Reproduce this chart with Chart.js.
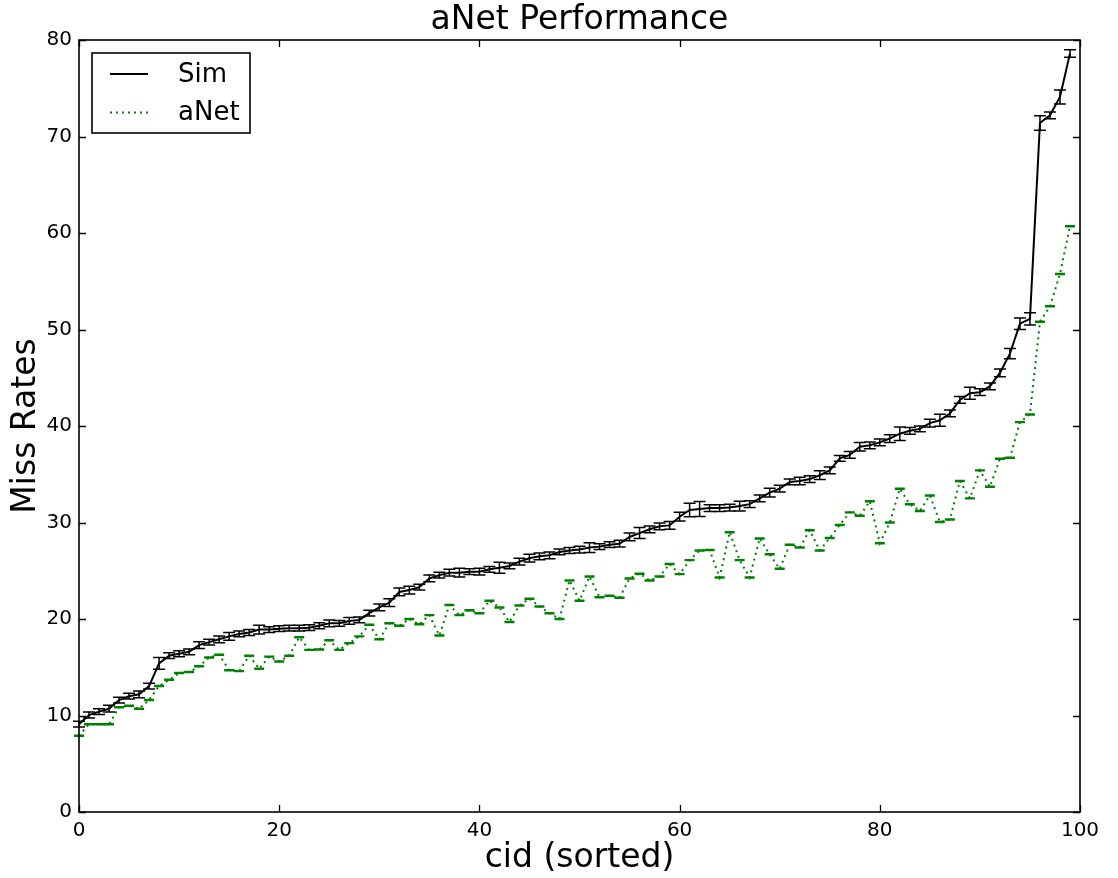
<!DOCTYPE html>
<html>
<head>
<meta charset="utf-8">
<script src="https://cdn.jsdelivr.net/npm/chart.js@4/dist/chart.umd.min.js"></script>
<style>
  html, body { margin: 0; padding: 0; background: #fff; }
  #wrap { width: 1118px; height: 878px; }
</style>
</head>
<body>
<div id="wrap"><canvas id="myChart" width="1118" height="878"></canvas></div>
<script>
// cid 0..99, sorted by Sim miss rate
var simRates = [
    9.1, 10.05, 10.4, 10.7, 11.6, 12.0, 12.2, 13.05, 15.4, 16.2,
    16.4, 16.6, 17.3, 17.6, 17.9, 18.2, 18.45, 18.6, 18.9, 18.9,
    19.0, 19.05, 19.05, 19.1, 19.3, 19.55, 19.55, 19.8, 19.9, 20.6,
    21.2, 21.7, 22.8, 23.0, 23.3, 24.2, 24.55, 24.8, 24.8, 24.9,
    24.9, 25.15, 25.3, 25.5, 25.95, 26.3, 26.5, 26.6, 26.95, 27.1,
    27.2, 27.4, 27.5, 27.7, 27.8, 28.5, 28.9, 29.3, 29.6, 29.7,
    30.6, 31.3, 31.4, 31.5, 31.5, 31.55, 31.7, 31.9, 32.5, 33.1,
    33.5, 34.2, 34.3, 34.5, 34.9, 35.4, 36.65, 37.0, 37.85, 38.0,
    38.3, 38.7, 39.2, 39.5, 39.7, 40.3, 40.6, 41.3, 42.7, 43.4,
    43.5, 44.1, 45.5, 47.5, 50.6, 51.1, 71.4, 72.2, 74.1, 78.6
];
var simErr = [
    0.3, 0.3, 0.3, 0.35, 0.3, 0.3, 0.35, 0.3, 0.6, 0.3,
    0.3, 0.3, 0.35, 0.3, 0.35, 0.4, 0.3, 0.3, 0.45, 0.3,
    0.3, 0.3, 0.3, 0.3, 0.3, 0.35, 0.3, 0.35, 0.3, 0.3,
    0.35, 0.4, 0.4, 0.4, 0.3, 0.35, 0.3, 0.35, 0.45, 0.3,
    0.35, 0.3, 0.57, 0.3, 0.35, 0.4, 0.35, 0.35, 0.3, 0.3,
    0.35, 0.5, 0.3, 0.3, 0.35, 0.4, 0.57, 0.35, 0.35, 0.4,
    0.45, 0.7, 0.78, 0.35, 0.35, 0.35, 0.5, 0.35, 0.35, 0.45,
    0.35, 0.3, 0.4, 0.35, 0.45, 0.35, 0.3, 0.35, 0.45, 0.35,
    0.35, 0.4, 0.7, 0.35, 0.3, 0.4, 0.62, 0.35, 0.35, 0.62,
    0.35, 0.35, 0.4, 0.52, 0.6, 0.64, 0.74, 0.35, 0.73, 0.38
];
var anetRates = [
    7.9, 9.1, 9.1, 9.1, 10.85, 11.0, 10.7, 11.6, 13.05, 13.7,
    14.4, 14.5, 15.1, 16.0, 16.3, 14.7, 14.6, 16.2, 14.85, 16.1,
    15.6, 16.2, 18.1, 16.8, 16.85, 17.8, 16.8, 17.5, 18.2, 19.4,
    17.9, 19.55, 19.3, 20.0, 19.45, 20.4, 18.3, 21.45, 20.4, 20.9,
    20.6, 21.9, 21.2, 19.7, 21.4, 22.1, 21.3, 20.6, 20.0, 24.0,
    21.9, 24.4, 22.25, 22.4, 22.2, 24.2, 24.7, 24.0, 24.4, 25.7,
    24.65, 26.1, 27.1, 27.15, 24.3, 29.0, 26.1, 24.3, 28.35, 26.7,
    25.2, 27.7, 27.4, 29.2, 27.1, 28.4, 29.75, 31.05, 30.7, 32.2,
    27.85, 30.0, 33.5, 31.9, 31.2, 32.8, 30.05, 30.3, 34.3, 32.5,
    35.4, 33.7, 36.6, 36.7, 40.4, 41.2, 50.8, 52.4, 55.75, 60.7
];
var anetErr = 0.05;
var xTicks = [0, 20, 40, 60, 80, 100];
var yTicks = [0, 10, 20, 30, 40, 50, 60, 70, 80];
var chartTitle = 'aNet Performance';

var FONT = "'DejaVu Sans', sans-serif";

function toPoints(vals) {
    var pts = [];
    for (var i = 0; i < vals.length; i++) {
        pts.push({ x: i, y: vals[i] });
    }
    return pts;
}

// error bars with caps, drawn through the chart scales
var errorBars = {
    id: 'errorBars',
    afterDatasetsDraw: function (chart) {
        var ctx = chart.ctx;
        var xs = chart.scales.x, ys = chart.scales.y;
        chart.data.datasets.forEach(function (ds) {
            var errs = ds.errors;
            ctx.save();
            ctx.strokeStyle = ds.borderColor;
            ctx.lineWidth = 1.5;
            ctx.setLineDash([]);
            for (var i = 0; i < ds.data.length; i++) {
                var e = Array.isArray(errs) ? errs[i] : errs;
                var px = xs.getPixelForValue(ds.data[i].x);
                var p1 = ys.getPixelForValue(ds.data[i].y - e);
                var p2 = ys.getPixelForValue(ds.data[i].y + e);
                var cw = ds.capWidth;
                ctx.beginPath();
                ctx.moveTo(px, p1); ctx.lineTo(px, p2);
                ctx.moveTo(px - cw, p1); ctx.lineTo(px + cw, p1);
                ctx.moveTo(px - cw, p2); ctx.lineTo(px + cw, p2);
                ctx.stroke();
            }
            ctx.restore();
        });
    }
};

// matplotlib style frame: inward ticks on all four sides, title, legend box
var frame = {
    id: 'frame',
    afterDraw: function (chart) {
        var ctx = chart.ctx;
        var a = chart.chartArea;
        var xs = chart.scales.x, ys = chart.scales.y;
        var tl = 7;
        ctx.save();
        ctx.strokeStyle = '#000';
        ctx.lineWidth = 1.3;
        ctx.beginPath();
        xTicks.forEach(function (v) {
            var px = Math.round(xs.getPixelForValue(v)) + 0.5;
            ctx.moveTo(px, a.bottom); ctx.lineTo(px, a.bottom - tl);
            ctx.moveTo(px, a.top); ctx.lineTo(px, a.top + tl);
        });
        yTicks.forEach(function (v) {
            var py = Math.round(ys.getPixelForValue(v)) + 0.5;
            ctx.moveTo(a.left, py); ctx.lineTo(a.left + tl, py);
            ctx.moveTo(a.right, py); ctx.lineTo(a.right - tl, py);
        });
        ctx.stroke();
        ctx.lineWidth = 1.6;
        ctx.strokeRect(a.left, a.top, a.right - a.left, a.bottom - a.top);

        // title, centred over the plot area
        ctx.fillStyle = '#000';
        ctx.font = '33px ' + FONT;
        ctx.textAlign = 'center';
        ctx.textBaseline = 'alphabetic';
        ctx.fillText(chartTitle, (a.left + a.right) / 2, 28.5);

        // legend
        var lx = a.left + 13, ly = a.top + 13;
        ctx.fillStyle = '#fff';
        ctx.fillRect(lx, ly, 158, 80);
        ctx.lineWidth = 1.6;
        ctx.strokeStyle = '#000';
        ctx.strokeRect(lx, ly, 158, 80);
        ctx.font = '26px ' + FONT;
        ctx.textBaseline = 'middle';
        ctx.textAlign = 'left';
        chart.data.datasets.forEach(function (ds, k) {
            var yy = ly + 21 + k * 38.5;
            ctx.save();
            ctx.strokeStyle = ds.borderColor;
            ctx.lineWidth = 2;
            ctx.setLineDash(ds.borderDash || []);
            ctx.beginPath();
            ctx.moveTo(lx + 18, yy); ctx.lineTo(lx + 56, yy);
            ctx.stroke();
            ctx.restore();
            ctx.fillStyle = '#000';
            ctx.fillText(ds.label, lx + 86, yy + 1);
        });
        ctx.restore();
    }
};

var ctx1 = document.getElementById('myChart');
var myChart = new Chart(ctx1, {
    type: 'line',
    data: {
        datasets: [
            {
                label: 'Sim',
                data: toPoints(simRates),
                errors: simErr,
                capWidth: 6,
                borderColor: '#000000',
                borderWidth: 2,
                pointRadius: 0,
                fill: false,
                tension: 0
            },
            {
                label: 'aNet',
                data: toPoints(anetRates),
                errors: anetErr,
                capWidth: 5,
                borderColor: '#008000',
                borderWidth: 2,
                borderDash: [2, 4],
                pointRadius: 0,
                fill: false,
                tension: 0
            }
        ]
    },
    options: {
        responsive: false,
        animation: false,
        layout: { padding: { left: 0, right: 38, top: 40, bottom: 0 } },
        plugins: {
            legend: { display: false },
            tooltip: { enabled: false },
            title: { display: false }
        },
        scales: {
            x: {
                type: 'linear',
                min: 0,
                max: 100,
                afterBuildTicks: function (s) { s.ticks = xTicks.map(function (v) { return { value: v }; }); },
                afterFit: function (s) { s.height = 66; },
                grid: { display: false, drawTicks: false },
                border: { display: false },
                ticks: { color: '#000', padding: 7, maxRotation: 0, font: { family: FONT, size: 20 } },
                title: {
                    display: true,
                    text: 'cid (sorted)',
                    color: '#000',
                    font: { family: FONT, size: 33 },
                    padding: { top: 0, bottom: 0 }
                }
            },
            y: {
                type: 'linear',
                min: 0,
                max: 80,
                afterBuildTicks: function (s) { s.ticks = yTicks.map(function (v) { return { value: v }; }); },
                afterFit: function (s) { s.width = 79; },
                grid: { display: false, drawTicks: false },
                border: { display: false },
                ticks: { color: '#000', padding: 7, font: { family: FONT, size: 20 } },
                title: {
                    display: true,
                    text: 'Miss Rates',
                    color: '#000',
                    font: { family: FONT, size: 33 },
                    padding: { top: 7, bottom: 0 }
                }
            }
        }
    },
    plugins: [errorBars, frame]
});
</script>
</body>
</html>
